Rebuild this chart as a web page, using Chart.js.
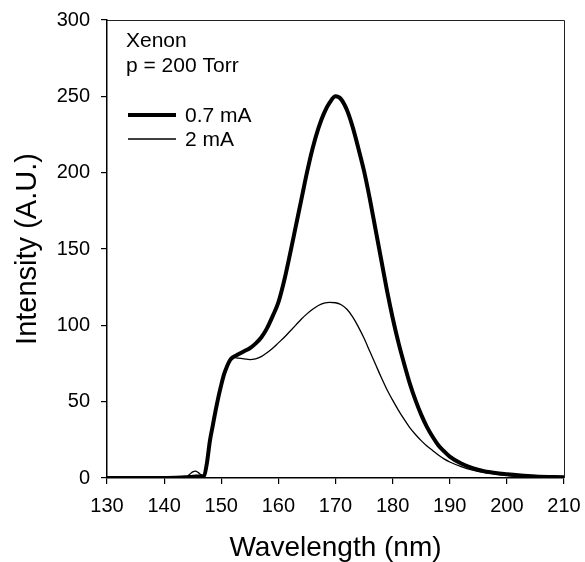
<!DOCTYPE html>
<html>
<head>
<meta charset="utf-8">
<script src="https://cdn.jsdelivr.net/npm/chart.js@4.4.1/dist/chart.umd.min.js"></script>
<style>
  html, body { margin: 0; padding: 0; background: #fff; }
  #wrap { width: 585px; height: 562px; }
</style>
</head>
<body>
<div id="wrap"><canvas id="c" width="585" height="562"></canvas></div>
<script>
// Wavelength grid (nm)
const wavelengths = [130,135,140,143,144,144.5,145,145.5,146,146.5,147,147.5,148,148.5,149,149.5,150,150.5,151,151.5,152,153,154,155,156,157,158,159,160,161,162,163,164,165,166,167,168,169,170,171,172,173,174,175,176,177,178,179,180,181,182,183,184,185,186,187,188,189,190,192,194,196,198,200,202,205,210];
// Intensity (A.U.) at 0.7 mA
const current07 = [0,0,0,0.3,0.5,0.6,0.8,1,1,1,1.5,10,24,34,44,53,61,68,73,77,79,81,83,85,88,92,98,106,115,129,146,164,182,200,216,229,239,246,250,248,241,230,216,201,183,163,143,123,105,89,75,62,51,41.5,33.5,27,21.5,17.5,14,9.5,6.5,4.5,3.3,2.5,1.8,1,0.5];
// Intensity (A.U.) at 2 mA
const current2 = [0,0,0,0.3,1,2.5,4,4.5,3.5,2,1.5,10,24,34,44,53,61,68,73,77,79,78.5,78,77.5,78,79.5,82,85,88.5,92,96,100,104,107.5,110.5,113,114.5,115,114.8,113.5,110.5,105.5,99,91.5,83,74.5,66,58,51,44.5,38.5,33,28.5,24.5,21,18,15,12.5,10.5,7.5,5.2,3.6,2.5,1.7,1.2,0.8,0.5];
const seriesLabels = ['0.7 mA', '2 mA'];
const annotationLines = ['Xenon', 'p = 200 Torr'];
const xTicks = [130,140,150,160,170,180,190,200,210];
const yTicks = [0,50,100,150,200,250,300];
const xTitle = 'Wavelength (nm)';
const yTitle = 'Intensity (A.U.)';

const FONT = "'Liberation Sans', Arial, sans-serif";

const toPts = (ys) => wavelengths.map((x, i) => ({ x, y: ys[i] }));

const boxAndNotes = {
  id: 'boxAndNotes',
  afterDatasetsDraw(chart) {
    const { ctx, chartArea: a } = chart;
    ctx.save();
    ctx.strokeStyle = '#222';
    ctx.lineWidth = 1;
    ctx.beginPath();
    ctx.moveTo(a.left, a.top + 0.5);
    ctx.lineTo(a.right + 0.5, a.top + 0.5);
    ctx.lineTo(a.right + 0.5, a.bottom);
    ctx.stroke();
    ctx.fillStyle = '#000';
    ctx.font = '21px ' + FONT;
    ctx.textBaseline = 'alphabetic';
    ctx.textAlign = 'left';
    ctx.fillText(annotationLines[0], 126, 47);
    ctx.fillText(annotationLines[1], 126, 72);
    const ys = [115, 139];
    chart.data.datasets.forEach((ds, i) => {
      ctx.strokeStyle = ds.borderColor;
      ctx.lineWidth = ds.borderWidth;
      ctx.beginPath();
      ctx.moveTo(128, ys[i]);
      ctx.lineTo(176, ys[i]);
      ctx.stroke();
      ctx.textBaseline = 'middle';
      ctx.fillText(ds.label, 185, ys[i] + 1);
    });
    ctx.restore();
  }
};

new Chart(document.getElementById('c'), {
  type: 'line',
  data: {
    datasets: [
      { label: seriesLabels[0], data: toPts(current07), borderColor: '#000', borderWidth: 4, pointRadius: 0, cubicInterpolationMode: 'monotone', fill: false },
      { label: seriesLabels[1], data: toPts(current2), borderColor: '#000', borderWidth: 1.3, pointRadius: 0, cubicInterpolationMode: 'monotone', fill: false }
    ]
  },
  options: {
    responsive: false,
    animation: false,
    devicePixelRatio: 1,
    layout: { padding: { top: 20, right: 21, left: 0, bottom: 0 } },
    plugins: { legend: { display: false }, tooltip: { enabled: false } },
    scales: {
      x: {
        type: 'linear',
        min: 130, max: 210,
        afterFit(s) { s.height = 84; s.paddingLeft = 0; s.paddingRight = 0; },
        afterBuildTicks(s) { s.ticks = xTicks.map(v => ({ value: v })); },
        ticks: { color: '#000', font: { family: FONT, size: 20 }, padding: 10, maxRotation: 0, autoSkip: false },
        grid: { drawOnChartArea: false, drawTicks: true, tickLength: 6, color: '#000', lineWidth: 1.2 },
        border: { color: '#000', width: 1.5 },
        title: { display: true, text: xTitle, color: '#000', font: { family: FONT, size: 28, lineHeight: 1 }, padding: { top: 0, bottom: 0 } }
      },
      y: {
        type: 'linear',
        min: 0, max: 300,
        afterFit(s) { s.width = 107; s.paddingTop = 0; s.paddingBottom = 0; },
        afterBuildTicks(s) { s.ticks = yTicks.map(v => ({ value: v })); },
        ticks: { color: '#000', font: { family: FONT, size: 20 }, padding: 11 },
        grid: { drawOnChartArea: false, drawTicks: true, tickLength: 6, color: '#000', lineWidth: 1.2 },
        border: { color: '#000', width: 1.5 },
        title: { display: true, text: yTitle, color: '#000', font: { family: FONT, size: 29, lineHeight: 1 }, padding: { top: 13, bottom: 0 } }
      }
    }
  },
  plugins: [boxAndNotes]
});
</script>
</body>
</html>
